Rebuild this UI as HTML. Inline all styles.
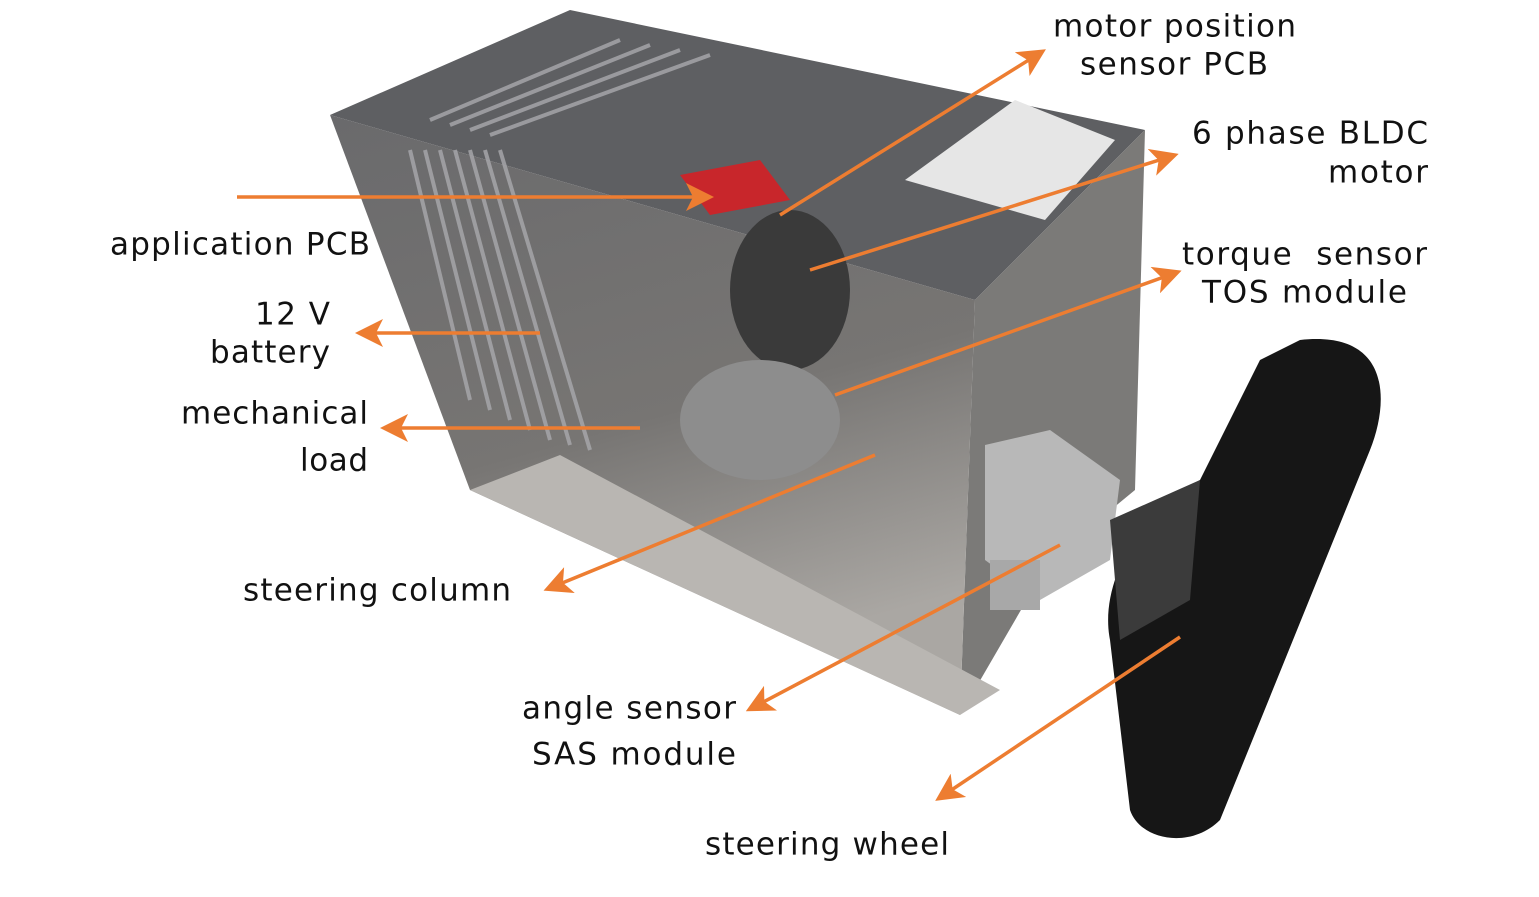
<!DOCTYPE html>
<html><head><meta charset="utf-8"><style>
html,body{margin:0;padding:0;background:#fff}
svg{display:block}
text{font-family:"DejaVu Sans","Liberation Sans",sans-serif;font-size:31px;fill:#111;dominant-baseline:middle}
</style></head><body>
<svg width="1539" height="897" viewBox="0 0 1539 897">
<defs>
<linearGradient id="fr" x1="0" y1="0" x2="0.3" y2="1">
<stop offset="0" stop-color="#6a6a6c"/><stop offset="0.6" stop-color="#777573"/><stop offset="1" stop-color="#aaa7a3"/></linearGradient>
<marker id="ah" markerWidth="8" markerHeight="8" refX="6" refY="4" orient="auto" markerUnits="strokeWidth">
<path d="M0,0 L8,4 L0,8 L2,4 z" fill="#ED7D31"/></marker>
</defs>
<polygon points="330,115 570,10 1145,130 975,300" fill="#5e5f62"/>
<polygon points="975,300 1145,130 1135,490 1050,560 960,715" fill="#7b7a78"/>
<polygon points="330,115 975,300 960,715 470,490" fill="url(#fr)"/>
<polygon points="470,490 960,715 1000,690 560,455" fill="#b9b6b2"/>
<polygon points="905,180 1015,100 1115,140 1045,220" fill="#e6e6e6"/>
<g stroke="#a9a9ad" stroke-width="4" opacity="0.8">
<line x1="410" y1="150" x2="470" y2="400"/><line x1="425" y1="150" x2="490" y2="410"/>
<line x1="440" y1="150" x2="510" y2="420"/><line x1="455" y1="150" x2="530" y2="430"/>
<line x1="470" y1="150" x2="550" y2="440"/><line x1="485" y1="150" x2="570" y2="445"/>
<line x1="500" y1="150" x2="590" y2="450"/>
<line x1="430" y1="120" x2="620" y2="40"/><line x1="450" y1="125" x2="650" y2="45"/>
<line x1="470" y1="130" x2="680" y2="50"/><line x1="490" y1="135" x2="710" y2="55"/>
</g>
<ellipse cx="790" cy="290" rx="60" ry="80" fill="#3a3a3a"/>
<ellipse cx="760" cy="420" rx="80" ry="60" fill="#8d8d8d"/>
<polygon points="680,175 760,160 790,200 710,215" fill="#c8262b"/>
<polygon points="985,445 1050,430 1120,480 1110,560 1040,600 985,560" fill="#b8b8b8"/>
<polygon points="990,560 1040,560 1040,610 990,610" fill="#a8a8a8"/>
<path d="M1300,340 C1390,330 1390,400 1370,450 L1220,820 C1190,850 1140,840 1130,810 L1110,640 C1100,590 1130,520 1200,480 L1260,360 Z" fill="#161616"/>
<path d="M1110,520 L1200,480 L1190,600 L1120,640 Z" fill="#3b3b3b"/>
<g stroke="#ED7D31" stroke-width="3.5" fill="none" marker-end="url(#ah)">
<line x1="780" y1="215" x2="1040" y2="53"/>
<line x1="810" y1="270" x2="1172" y2="156"/>
<line x1="835" y1="395" x2="1175" y2="273"/>
<line x1="237" y1="197" x2="707" y2="197"/>
<line x1="540" y1="333" x2="362" y2="333"/>
<line x1="640" y1="428" x2="387" y2="428"/>
<line x1="875" y1="455" x2="550" y2="588"/>
<line x1="1060" y1="545" x2="752" y2="708"/>
<line x1="1180" y1="637" x2="941" y2="797"/>
</g>
<text x="1053" y="28" textLength="243">motor position</text>
<text x="1080" y="66" textLength="188">sensor PCB</text>
<text x="1192" y="135" textLength="236">6 phase BLDC</text>
<text x="1328" y="174" textLength="100">motor</text>
<text x="1182" y="256" textLength="245" xml:space="preserve">torque  sensor</text>
<text x="1202" y="294" textLength="205">TOS module</text>
<text x="110" y="246" textLength="260">application PCB</text>
<text x="255" y="316" textLength="75">12 V</text>
<text x="210" y="354" textLength="120">battery</text>
<text x="181" y="415" textLength="187">mechanical</text>
<text x="300" y="462" textLength="68">load</text>
<text x="243" y="592" textLength="268">steering column</text>
<text x="522" y="710" textLength="214">angle sensor</text>
<text x="532" y="756" textLength="204">SAS module</text>
<text x="705" y="846" textLength="244">steering wheel</text>
</svg>
</body></html>
